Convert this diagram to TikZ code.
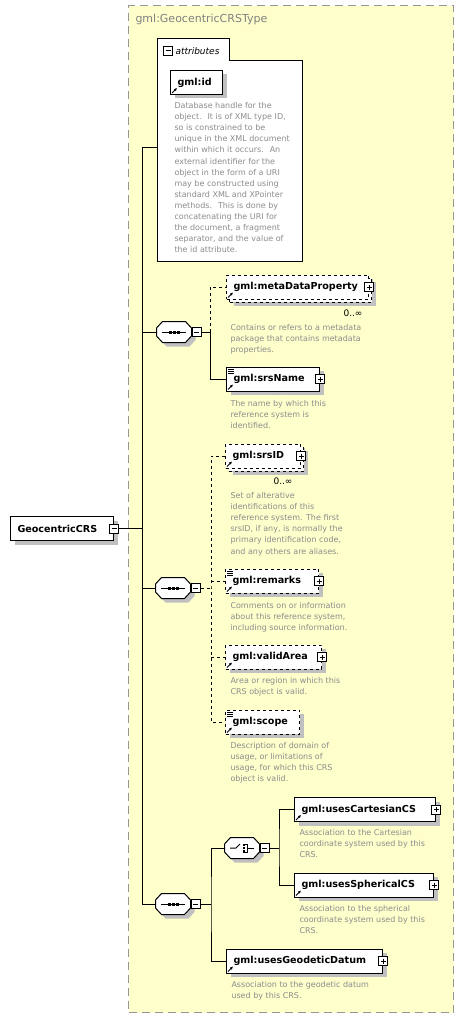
\documentclass[tikz,border=0pt]{standalone}
\usepackage{fontspec}
\setmainfont{DejaVu Sans}
\usepackage{xcolor}
\usetikzlibrary{arrows.meta,positioning,calc}
\definecolor{fundoTipo}{RGB}{255,255,204}
\definecolor{bordaTipo}{RGB}{150,150,150}
\definecolor{sombra}{RGB}{192,192,192}
\definecolor{textoDoc}{RGB}{140,140,140}
\definecolor{textoTitulo}{RGB}{128,128,128}
\tikzset{
    caixaTipo/.style={
        rectangle,
        anchor=north west,
        fill=fundoTipo,
        draw=bordaTipo,
        line width=1.2pt,
        dash pattern=on 8pt off 5pt,
        minimum width=325pt,
        minimum height=1007pt
    },
    elemento/.style={
        rectangle,
        draw,
        fill=white,
        anchor=west,
        minimum height=24pt,
        inner xsep=7pt,
        inner ysep=0pt,
        text width=#1,
        align=left,
        font=\bfseries\fontsize{9.6}{11}\selectfont,
        preaction={fill=sombra, transform canvas={shift={(4pt,-4pt)}}}
    },
    opcional/.style={dashed},
    multiplo/.style={
        preaction={fill=sombra, transform canvas={shift={(7pt,-7pt)}}},
        preaction={draw, dashed, fill=white, transform canvas={shift={(3pt,-3pt)}}}
    },
    compositor/.style={rectangle, minimum width=34pt, minimum height=20pt, inner sep=0pt},
    octogono/.style={insert path={
        ([yshift=4pt]#1.west) -- ([xshift=6pt]#1.north west) -- ([xshift=-6pt]#1.north east)
        -- ([yshift=4pt]#1.east) -- ([yshift=-4pt]#1.east) -- ([xshift=-6pt]#1.south east)
        -- ([xshift=6pt]#1.south west) -- ([yshift=-4pt]#1.west) -- cycle
    }},
    expandir/.style={rectangle, draw, solid, fill=white, minimum size=9pt, inner sep=0pt, path picture={
        \draw ([xshift=2pt]path picture bounding box.west) -- ([xshift=-2pt]path picture bounding box.east);
        \draw ([yshift=-2pt]path picture bounding box.north) -- ([yshift=2pt]path picture bounding box.south);
    }},
    recolher/.style={rectangle, draw, solid, fill=white, minimum size=9pt, inner sep=0pt, path picture={
        \draw ([xshift=2pt]path picture bounding box.west) -- ([xshift=-2pt]path picture bounding box.east);
    }},
    doc/.style={
        anchor=north west,
        inner sep=0pt,
        align=left,
        text=textoDoc,
        font=\fontsize{8}{11.1}\selectfont
    },
    cardinalidade/.style={inner sep=0pt, font=\fontsize{9}{10}\selectfont}
}

\begin{document}
\begin{tikzpicture}[x=1pt, y=-1pt, line width=1pt]
    \useasboundingbox (0,0) rectangle (463,1019);

    % tipo complexo
    \node[caixaTipo] (tipo) at (128,5) {};
    \node[anchor=west, inner sep=0pt, text=textoTitulo, font=\fontsize{11}{13}\selectfont] (titulo) at (135,19) {gml:GeocentricCRSType};

    % atributos
    \draw[fill=white] (157,39) -- (229,39) -- (229,61) -- (302,61) -- (302,261) -- (157,261) -- cycle;
    \node[recolher] (atribMenos) at (168,51) {};
    \node[anchor=west, inner sep=0pt, font=\itshape\fontsize{9}{10}\selectfont] (atribTexto) at (175,51) {attributes};
    \coordinate (atrib) at (157,148);

    % elementos
    \node[elemento=89pt] (raiz) at (10,528.5) {GeocentricCRS};
    \node[elemento=38pt] (id) at (170,82.5) {gml:id};
    \node[elemento=128pt, opcional, multiplo] (metaData) at (226,287) {gml:metaDataProperty};
    \node[elemento=79pt] (srsName) at (226,379) {gml:srsName};
    \node[elemento=61pt, opcional, multiplo] (srsID) at (225,456) {gml:srsID};
    \node[elemento=79pt, opcional] (remarks) at (225,581) {gml:remarks};
    \node[elemento=82pt, opcional] (validArea) at (225,657) {gml:validArea};
    \node[elemento=60pt, opcional] (scope) at (225,722) {gml:scope};
    \node[elemento=127pt] (cartesiano) at (294,809.5) {gml:usesCartesianCS};
    \node[elemento=125pt] (esferico) at (294,885) {gml:usesSphericalCS};
    \node[elemento=142pt] (geodetico) at (226,961) {gml:usesGeodeticDatum};

    % compositores
    \node[compositor] (seq1) at (174,332) {};
    \node[compositor] (seq2) at (173,588) {};
    \node[compositor] (seq3) at (173,904) {};
    \node[compositor] (esc) at (242,848) {};
    \foreach \c in {seq1,seq2,seq3,esc} {
        \fill[sombra, transform canvas={shift={(4pt,-4pt)}}, octogono=\c];
        \draw[fill=white, octogono=\c];
    }
    \foreach \c in {seq1,seq2,seq3} {
        \draw ([xshift=-12pt]\c.center) -- ([xshift=12pt]\c.center);
        \foreach \d in {-4,0,4}
            \fill ([xshift=\d pt]\c.center) +(-1.5pt,-1.5pt) rectangle +(1.5pt,1.5pt);
    }
    \draw ([xshift=-12pt]esc.center) -- ([xshift=-6pt]esc.center) -- ([xshift=-2pt,yshift=4pt]esc.center);
    \draw ([xshift=1pt,yshift=4pt]esc.center) -- ([xshift=5pt,yshift=4pt]esc.center)
        -- ([xshift=5pt,yshift=-4pt]esc.center) -- ([xshift=1pt,yshift=-4pt]esc.center);
    \draw ([xshift=5pt]esc.center) -- ([xshift=12pt]esc.center);
    \foreach \d in {-3,0,3}
        \fill ([xshift=2pt,yshift=\d pt]esc.center) +(-1pt,-1pt) rectangle +(1pt,1pt);

    \node[recolher, right=0pt of seq1] (seq1Menos) {};
    \node[recolher, right=0pt of seq2] (seq2Menos) {};
    \node[recolher, right=0pt of seq3] (seq3Menos) {};
    \node[recolher, right=0pt of esc] (escMenos) {};
    \node[recolher] (raizMenos) at (raiz.east) {};

    % icones
    \foreach \n in {metaData,srsName,srsID,remarks,validArea,cartesiano,esferico,geodetico}
        \node[expandir] (\n Mais) at (\n.east) {};
    \foreach \n in {id,metaData,srsName,srsID,remarks,validArea,scope,cartesiano,esferico,geodetico}
        \draw[-{Latex[length=3pt,width=3pt]}, line width=0.9pt, solid] ([xshift=2pt,yshift=2pt]\n.south west) -- ++(5pt,5pt);
    \foreach \n in {srsName,remarks,scope}
        \foreach \k in {2.5,4.5,6.5}
            \draw[line width=0.7pt] ([xshift=2pt,yshift=-\k pt]\n.north west) -- ++(6pt,0pt);

    \node[cardinalidade] (metaDataCard) at (353,313) {0..∞};
    \node[cardinalidade] (srsIDCard) at (283,481) {0..∞};

    % ligacoes
    \coordinate (tronco) at (142,528.5);
    \draw (raizMenos.east) -- (tronco);
    \draw (tronco |- atrib) -- (tronco |- seq3.west);
    \draw (tronco |- atrib) -- (atrib);
    \foreach \s in {seq1,seq2,seq3}
        \draw (tronco |- \s.west) -- (\s.west);

    \coordinate (ramo1) at (210,332);
    \draw (seq1Menos.east) -- (ramo1) |- (srsName.west);
    \draw[dashed] (ramo1) |- (metaData.west);

    \coordinate (ramo2) at (211,588);
    \draw[dashed] (seq2Menos.east) -- (ramo2);
    \draw[dashed] (srsID.west) -| (ramo2) |- (scope.west);
    \foreach \n in {remarks,validArea}
        \draw[dashed] (ramo2 |- \n.west) -- (\n.west);

    \coordinate (ramo3) at (211,904);
    \draw (seq3Menos.east) -- (ramo3);
    \draw (esc.west) -| (ramo3) |- (geodetico.west);

    \coordinate (ramo4) at (279,848);
    \draw (escMenos.east) -- (ramo4);
    \draw (cartesiano.west) -| (ramo4) |- (esferico.west);

    % documentacao
    \node[doc] (idDoc) at (174,102) {Database handle for the\\object.~ It is of XML type ID,\\so is constrained to be\\unique in the XML document\\within which it occurs.~ An\\external identifier for the\\object in the form of a URI\\may be constructed using\\standard XML and XPointer\\methods.~ This is done by\\concatenating the URI for\\the document, a fragment\\separator, and the value of\\the id attribute.};
    \node[doc] (metaDataDoc) at (230,324) {Contains or refers to a metadata\\package that contains metadata\\properties.};
    \node[doc] (srsNameDoc) at (230,400) {The name by which this\\reference system is\\identified.};
    \node[doc] (srsIDDoc) at (230,492) {Set of alterative\\identifications of this\\reference system. The first\\srsID, if any, is normally the\\primary identification code,\\and any others are aliases.};
    \node[doc] (remarksDoc) at (230,602) {Comments on or information\\about this reference system,\\including source information.};
    \node[doc] (validAreaDoc) at (230,677) {Area or region in which this\\CRS object is valid.};
    \node[doc] (scopeDoc) at (230,742) {Description of domain of\\usage, or limitations of\\usage, for which this CRS\\object is valid.};
    \node[doc] (cartesianoDoc) at (299,829) {Association to the Cartesian\\coordinate system used by this\\CRS.};
    \node[doc] (esfericoDoc) at (299,905) {Association to the spherical\\coordinate system used by this\\CRS.};
    \node[doc] (geodeticoDoc) at (231,981) {Association to the geodetic datum\\used by this CRS.};
\end{tikzpicture}
\end{document}
